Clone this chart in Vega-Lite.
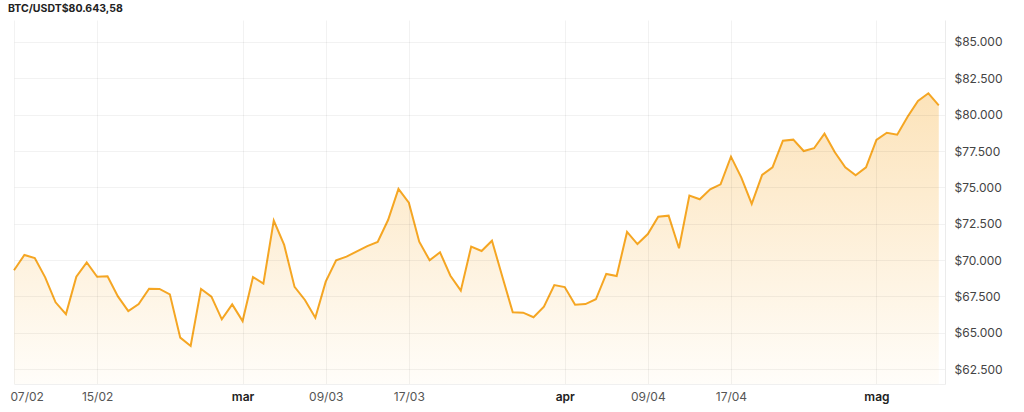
{
  "$schema": "https://vega.github.io/schema/vega-lite/v6.json",
  "width": 931,
  "height": 364,
  "autosize": "none",
  "padding": {"left": 14, "top": 20, "right": 79, "bottom": 28},
  "background": "#ffffff",
  "title": {
    "text": "BTC/USDT$80.643,58",
    "anchor": "start",
    "frame": "group",
    "font": "Inter",
    "fontSize": 10.5,
    "fontWeight": "bold",
    "color": "#222222",
    "offset": 6,
    "dx": -6
  },
  "config": {
    "view": {"stroke": null},
    "font": "Inter"
  },
  "data": {
    "values": [
      {"date": "2026-02-07", "price": 69300},
      {"date": "2026-02-08", "price": 70350},
      {"date": "2026-02-09", "price": 70140},
      {"date": "2026-02-10", "price": 68810},
      {"date": "2026-02-11", "price": 67090},
      {"date": "2026-02-12", "price": 66280},
      {"date": "2026-02-13", "price": 68850},
      {"date": "2026-02-14", "price": 69840},
      {"date": "2026-02-15", "price": 68850},
      {"date": "2026-02-16", "price": 68880},
      {"date": "2026-02-17", "price": 67500},
      {"date": "2026-02-18", "price": 66490},
      {"date": "2026-02-19", "price": 66970},
      {"date": "2026-02-20", "price": 68030},
      {"date": "2026-02-21", "price": 68010},
      {"date": "2026-02-22", "price": 67640},
      {"date": "2026-02-23", "price": 64660},
      {"date": "2026-02-24", "price": 64090},
      {"date": "2026-02-25", "price": 68010},
      {"date": "2026-02-26", "price": 67480},
      {"date": "2026-02-27", "price": 65920},
      {"date": "2026-02-28", "price": 66950},
      {"date": "2026-03-01", "price": 65800},
      {"date": "2026-03-02", "price": 68830},
      {"date": "2026-03-03", "price": 68370},
      {"date": "2026-03-04", "price": 72710},
      {"date": "2026-03-05", "price": 71040},
      {"date": "2026-03-06", "price": 68150},
      {"date": "2026-03-07", "price": 67250},
      {"date": "2026-03-08", "price": 66030},
      {"date": "2026-03-09", "price": 68510},
      {"date": "2026-03-10", "price": 69980},
      {"date": "2026-03-11", "price": 70230},
      {"date": "2026-03-12", "price": 70600},
      {"date": "2026-03-13", "price": 70960},
      {"date": "2026-03-14", "price": 71240},
      {"date": "2026-03-15", "price": 72750},
      {"date": "2026-03-16", "price": 74890},
      {"date": "2026-03-17", "price": 73940},
      {"date": "2026-03-18", "price": 71260},
      {"date": "2026-03-19", "price": 69980},
      {"date": "2026-03-20", "price": 70530},
      {"date": "2026-03-21", "price": 68920},
      {"date": "2026-03-22", "price": 67890},
      {"date": "2026-03-23", "price": 70920},
      {"date": "2026-03-24", "price": 70620},
      {"date": "2026-03-25", "price": 71330},
      {"date": "2026-03-26", "price": 68850},
      {"date": "2026-03-27", "price": 66400},
      {"date": "2026-03-28", "price": 66380},
      {"date": "2026-03-29", "price": 66060},
      {"date": "2026-03-30", "price": 66790},
      {"date": "2026-03-31", "price": 68280},
      {"date": "2026-04-01", "price": 68140},
      {"date": "2026-04-02", "price": 66930},
      {"date": "2026-04-03", "price": 66970},
      {"date": "2026-04-04", "price": 67300},
      {"date": "2026-04-05", "price": 69040},
      {"date": "2026-04-06", "price": 68900},
      {"date": "2026-04-07", "price": 71930},
      {"date": "2026-04-08", "price": 71100},
      {"date": "2026-04-09", "price": 71790},
      {"date": "2026-04-10", "price": 72980},
      {"date": "2026-04-11", "price": 73050},
      {"date": "2026-04-12", "price": 70810},
      {"date": "2026-04-13", "price": 74430},
      {"date": "2026-04-14", "price": 74180},
      {"date": "2026-04-15", "price": 74870},
      {"date": "2026-04-16", "price": 75210},
      {"date": "2026-04-17", "price": 77110},
      {"date": "2026-04-18", "price": 75670},
      {"date": "2026-04-19", "price": 73860},
      {"date": "2026-04-20", "price": 75850},
      {"date": "2026-04-21", "price": 76380},
      {"date": "2026-04-22", "price": 78210},
      {"date": "2026-04-23", "price": 78280},
      {"date": "2026-04-24", "price": 77500},
      {"date": "2026-04-25", "price": 77690},
      {"date": "2026-04-26", "price": 78690},
      {"date": "2026-04-27", "price": 77410},
      {"date": "2026-04-28", "price": 76380},
      {"date": "2026-04-29", "price": 75830},
      {"date": "2026-04-30", "price": 76380},
      {"date": "2026-05-01", "price": 78260},
      {"date": "2026-05-02", "price": 78760},
      {"date": "2026-05-03", "price": 78620},
      {"date": "2026-05-04", "price": 79860},
      {"date": "2026-05-05", "price": 80940},
      {"date": "2026-05-06", "price": 81470},
      {"date": "2026-05-07", "price": 80643.58}
    ]
  },
  "encoding": {
    "x": {
      "field": "date",
      "type": "temporal",
      "scale": {
        "type": "utc",
        "domain": [
          {"year": 2026, "month": 2, "date": 7, "utc": true},
          {"year": 2026, "month": 5, "date": 7, "hours": 14, "minutes": 24, "utc": true}
        ]
      },
      "axis": {
        "title": null,
        "zindex": 1,
        "values": [
          {"year": 2026, "month": 2, "date": 7, "utc": true},
          {"year": 2026, "month": 2, "date": 15, "utc": true},
          {"year": 2026, "month": 3, "date": 1, "utc": true},
          {"year": 2026, "month": 3, "date": 9, "utc": true},
          {"year": 2026, "month": 3, "date": 17, "utc": true},
          {"year": 2026, "month": 4, "date": 1, "utc": true},
          {"year": 2026, "month": 4, "date": 9, "utc": true},
          {"year": 2026, "month": 4, "date": 17, "utc": true},
          {"year": 2026, "month": 5, "date": 1, "utc": true}
        ],
        "labelExpr": "utcdate(datum.value) == 1 ? ['gen','feb','mar','apr','mag','giu','lug','ago','set','ott','nov','dic'][utcmonth(datum.value)] : utcFormat(datum.value, '%d/%m')",
        "labelFontWeight": {"condition": {"test": "utcdate(datum.value) == 1", "value": 600}, "value": 400},
        "labelColor": {"condition": {"test": "utcdate(datum.value) == 1", "value": "#222222"}, "value": "#555555"},
        "labelFont": "Inter",
        "labelFontSize": 12,
        "labelPadding": 7,
        "labelFlush": true,
        "labelFlushOffset": 4,
        "ticks": false,
        "domain": true,
        "domainColor": "#f0f0f0",
        "grid": true,
        "gridColor": "#000000",
        "gridOpacity": 0.05,
        "gridWidth": 1
      }
    },
    "y": {
      "field": "price",
      "type": "quantitative",
      "scale": {"domain": [61470, 86513], "zero": false, "nice": false},
      "axis": {
        "title": null,
        "zindex": 1,
        "orient": "right",
        "values": [62500, 65000, 67500, 70000, 72500, 75000, 77500, 80000, 82500, 85000],
        "labelExpr": "'$' + replace(format(datum.value, ',.0f'), ',', '.')",
        "labelFont": "Inter",
        "labelFontSize": 12,
        "labelColor": "#444444",
        "labelPadding": 9,
        "ticks": false,
        "domain": true,
        "domainColor": "#ebebeb",
        "grid": true,
        "gridColor": "#000000",
        "gridOpacity": 0.05,
        "gridWidth": 1
      }
    }
  },
  "layer": [
    {
      "mark": {
        "type": "area",
        "color": {
          "x1": 1, "y1": 1, "x2": 1, "y2": 0,
          "gradient": "linear",
          "stops": [
            {"offset": 0, "color": "#FFFDF9"},
            {"offset": 1, "color": "#FCE3BA"}
          ]
        }
      },
      "encoding": {
        "y2": {"datum": 61470}
      }
    },
    {
      "mark": {"type": "line", "color": "#F5A623", "strokeWidth": 2}
    }
  ]
}
